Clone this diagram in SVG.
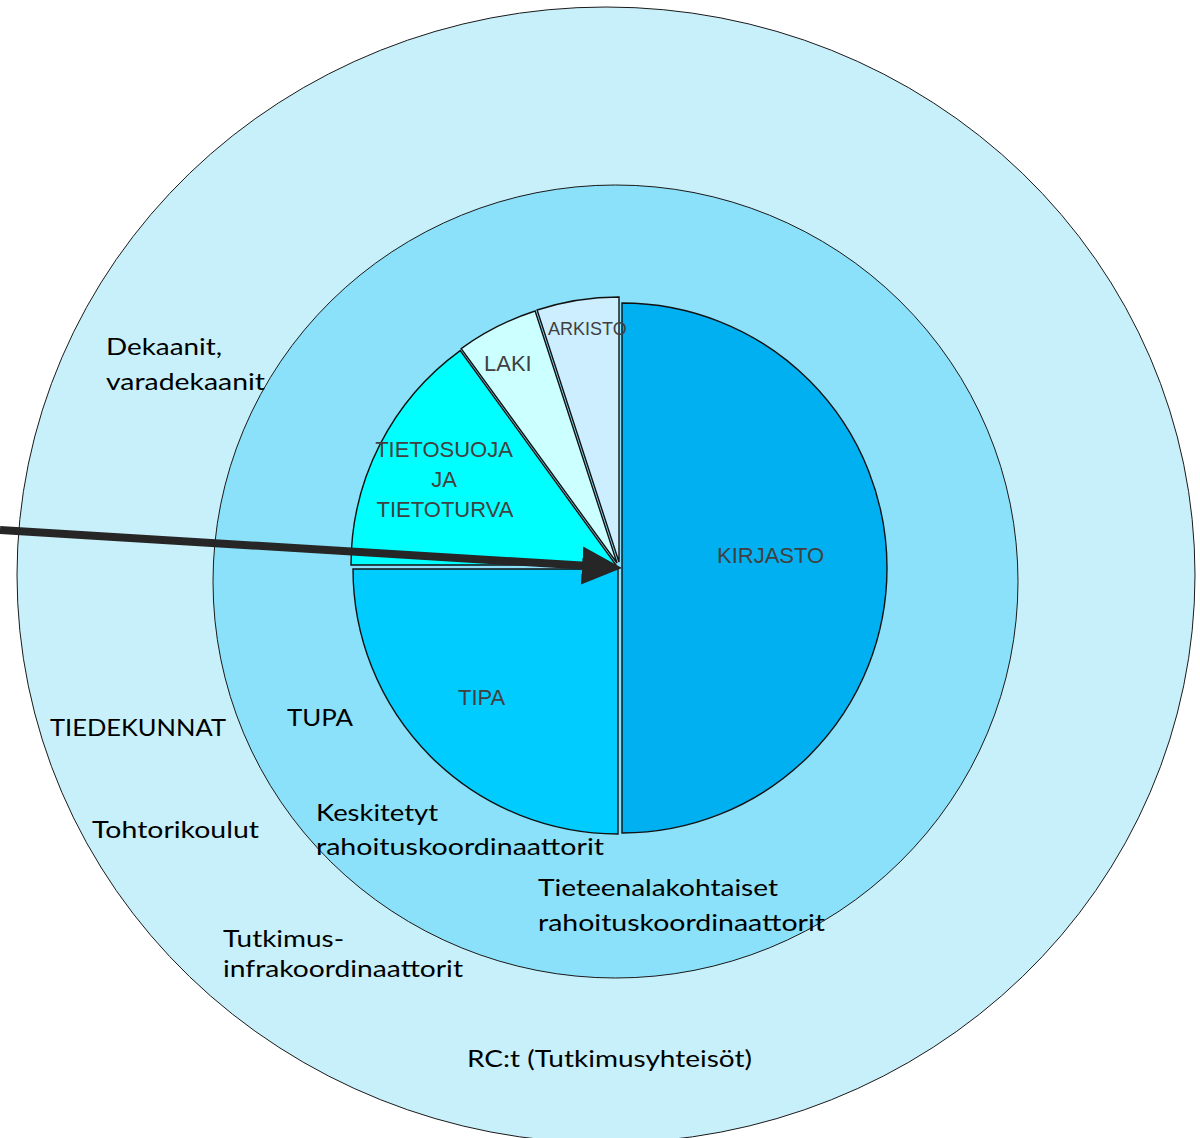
<svg xmlns="http://www.w3.org/2000/svg" width="1200" height="1138" viewBox="0 0 1200 1138">
<style>
.ring{stroke:#1a1a1a;stroke-width:1}
.slice{stroke:#111;stroke-width:1.4}
.pl{font-family:"Liberation Sans",Arial,sans-serif;fill:#404040;font-size:22px}
.lb{font-family:Lato,"Noto Sans",sans-serif;fill:#000;font-size:24px}
</style>
<defs>
<marker id="ah" viewBox="0 0 40 40" refX="20" refY="20" markerWidth="40" markerHeight="40" markerUnits="userSpaceOnUse" orient="auto">
<path d="M0,1 L40,20 L0,39 Z" fill="#262626"/>
</marker>
</defs>
<rect width="1200" height="1138" fill="#ffffff"/>
<g id="outer"><ellipse class="ring" cx="606" cy="575" rx="589" ry="568" fill="#c8f0fa"/></g>
<g id="middle"><ellipse class="ring" cx="615.5" cy="581.5" rx="402.5" ry="396.5" fill="#8be1f9"/></g>
<g id="kirjasto"><path class="slice" d="M622,568 L622,303 A265,265 0 0 1 622,833 Z" fill="#00b0f0"/><text class="pl" x="717" y="563">KIRJASTO</text></g>
<g id="tipa"><path class="slice" d="M618,569 L618,834 A265,265 0 0 1 353,569 Z" fill="#00ccff"/><text class="pl" x="458" y="705">TIPA</text></g>
<g id="tietosuoja"><path class="slice" d="M616,565 L351,565 A265,265 0 0 1 460.2,350.6 Z" fill="#00ffff"/>
<text class="pl" text-anchor="middle" x="444" y="457">TIETOSUOJA</text><text class="pl" text-anchor="middle" x="444" y="487">JA</text><text class="pl" text-anchor="middle" x="445" y="517">TIETOTURVA</text></g>
<g id="laki"><path class="slice" d="M617,563 L461.2,348.6 A265,265 0 0 1 535.1,311 Z" fill="#ccffff"/><text class="pl" x="484" y="371">LAKI</text></g>
<g id="arkisto"><path class="slice" d="M619,562 L537.1,310 A265,265 0 0 1 619,297 Z" fill="#cceeff"/><text class="pl" x="548" y="335" style="font-size:18px">ARKISTO</text></g>
<g id="connectors"><line x1="0" y1="530" x2="602" y2="566.8" stroke="#262626" stroke-width="8" marker-end="url(#ah)"/></g>
<g id="labels">
<text class="lb" x="106" y="355" textLength="116" lengthAdjust="spacingAndGlyphs">Dekaanit,</text>
<text class="lb" x="106" y="390" textLength="159" lengthAdjust="spacingAndGlyphs">varadekaanit</text>
<text class="lb" x="50" y="736" textLength="176" lengthAdjust="spacingAndGlyphs">TIEDEKUNNAT</text>
<text class="lb" x="287" y="726" textLength="66" lengthAdjust="spacingAndGlyphs">TUPA</text>
<text class="lb" x="92" y="838" textLength="167" lengthAdjust="spacingAndGlyphs">Tohtorikoulut</text>
<text class="lb" x="316" y="821" textLength="122" lengthAdjust="spacingAndGlyphs">Keskitetyt</text>
<text class="lb" x="316" y="855" textLength="288" lengthAdjust="spacingAndGlyphs">rahoituskoordinaattorit</text>
<text class="lb" x="538" y="896" textLength="240" lengthAdjust="spacingAndGlyphs">Tieteenalakohtaiset</text>
<text class="lb" x="538" y="931" textLength="287" lengthAdjust="spacingAndGlyphs">rahoituskoordinaattorit</text>
<text class="lb" x="223" y="947" textLength="121" lengthAdjust="spacingAndGlyphs">Tutkimus-</text>
<text class="lb" x="223" y="977" textLength="240" lengthAdjust="spacingAndGlyphs">infrakoordinaattorit</text>
<text class="lb" x="467" y="1067" textLength="285" lengthAdjust="spacingAndGlyphs">RC:t (Tutkimusyhteisöt)</text>
</g>
</svg>
